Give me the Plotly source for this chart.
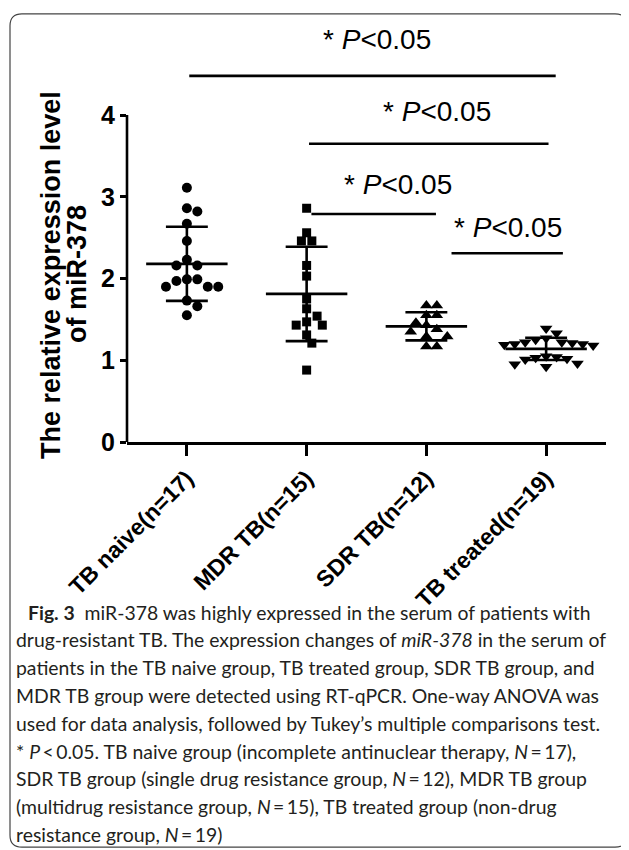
import numpy as np
import plotly.graph_objects as go

# ---------------- data ----------------
categories = ["TB naive(n=17)", "MDR TB(n=15)", "SDR TB(n=12)", "TB treated(n=19)"]
symbols = ["circle", "square", "triangle-up", "triangle-down"]

tb_naive = [3.11, 2.86, 2.82, 2.67, 2.46, 2.23, 2.16, 2.16, 1.99, 1.97, 1.99,
            1.90, 1.90, 1.90, 1.73, 1.66, 1.55]
mdr_tb = [2.86, 2.56, 2.46, 2.46, 2.16, 2.03, 1.75, 1.63, 1.54, 1.43, 1.43,
          1.47, 1.31, 1.21, 0.88]
sdr_tb = [1.67, 1.67, 1.55, 1.55, 1.46, 1.43, 1.38, 1.35, 1.29, 1.29, 1.17, 1.17]
tb_treated = [1.39, 1.33, 1.27, 1.25, 1.22, 1.21, 1.20, 1.19, 1.18, 1.20, 1.22,
              1.05, 1.03, 1.02, 1.04, 1.01, 0.96, 0.95, 0.92]
groups = [tb_naive, mdr_tb, sdr_tb, tb_treated]

y_ticks = [0, 1, 2, 3, 4]
y_title_lines = ["The relative expression level", "of miR-378"]

# significance comparisons
sig_label = "* <i>P</i>&lt;0.05"
sig_x0 = [0.02, 1.02, 1.04, 2.21]
sig_x1 = [3.08, 3.02, 2.08, 3.14]
sig_y = [4.48, 3.65, 2.79, 2.31]
sig_tx = [1.59, 2.085, 1.76, 2.68]
sig_ty = [4.92, 4.04, 3.15, 2.62]

caption_lines = [
    "<b>Fig. 3</b>  miR-378 was highly expressed in the serum of patients with",
    "drug-resistant TB. The expression changes of <i>miR-378</i> in the serum of",
    "patients in the TB naive group, TB treated group, SDR TB group, and",
    "MDR TB group were detected using RT-qPCR. One-way ANOVA was",
    "used for data analysis, followed by Tukey\u2019s multiple comparisons test.",
    "* <i>P</i>\u2009&lt;\u20090.05. TB naive group (incomplete antinuclear therapy, <i>N</i>\u2009=\u200917),",
    "SDR TB group (single drug resistance group, <i>N</i>\u2009=\u200912), MDR TB group",
    "(multidrug resistance group, <i>N</i>\u2009=\u200915), TB treated group (non-drug",
    "resistance group, <i>N</i>\u2009=\u200919)",
]

# ---------------- layout geometry (page pixels) ----------------
OFF = 8                      # default body margin of the html page
W, H = 629 - OFF, 850 - OFF
AX_LEFT, AX_RIGHT, AX_ZERO = 127, 606, 442   # page px
PX_UNIT = 81.7
Y_MAX = 5.2
L = AX_LEFT - OFF
R = W - (AX_RIGHT - OFF)
B = H - (AX_ZERO - OFF)
PH = Y_MAX * PX_UNIT
T = H - B - PH
PW = W - L - R
px_per_cat = PW / 4.0


def xp(px):
    """page px -> paper x"""
    return (px - OFF - L) / PW


def yp(py):
    """page px -> paper y"""
    return (H - B - (py - OFF)) / PH


def swarm(vals, d=9.5):
    order = sorted(range(len(vals)), key=lambda i: -vals[i])
    placed = []
    offs = [0.0] * len(vals)
    cands = [0]
    for j in range(1, 20):
        cands += [j, -j]
    for i in order:
        y = vals[i] * PX_UNIT
        x = 0.0
        for c in cands:
            x = c * d * 0.55
            if all((x - qx) ** 2 + (y - qy) ** 2 >= (d * 0.95) ** 2 for qx, qy in placed):
                break
        placed.append((x, y))
        offs[i] = x / px_per_cat
    return offs


fig = go.Figure()

for gi, vals in enumerate(groups):
    offs = swarm(vals)
    fig.add_trace(go.Scatter(
        x=[gi + o for o in offs], y=vals, mode="markers",
        marker=dict(symbol=symbols[gi], color="black",
                    size=[10, 9, 11, 11][gi], line=dict(width=0)),
        showlegend=False, hoverinfo="skip", cliponaxis=False))

for gi, vals in enumerate(groups):
    m = float(np.mean(vals))
    s = float(np.std(vals, ddof=1))
    hw, cw = 0.34, 0.175
    fig.add_trace(go.Scatter(
        x=[gi - hw, gi + hw, None, gi - cw, gi + cw, None, gi - cw, gi + cw, None, gi, gi],
        y=[m, m, None, m + s, m + s, None, m - s, m - s, None, m + s, m - s],
        mode="lines", line=dict(color="black", width=2.6),
        showlegend=False, hoverinfo="skip"))

shapes = []
shapes.append(dict(type="line", xref="paper", yref="y", x0=0, x1=0, y0=0,
                   y1=max(y_ticks), line=dict(color="black", width=2.6)))
for x0, x1, y in zip(sig_x0, sig_x1, sig_y):
    shapes.append(dict(type="line", xref="x", yref="y", x0=x0, x1=x1, y0=y, y1=y,
                       line=dict(color="black", width=2.6)))

# rounded border around the whole figure (page px)
bx0, by0, bx1, by1, r = 10, 14, 627, 847, 12
pts = [
    ("M", bx0 + r, by0), ("L", bx1 - r, by0), ("Q", bx1, by0, bx1, by0 + r),
    ("L", bx1, by1 - r), ("Q", bx1, by1, bx1 - r, by1), ("L", bx0 + r, by1),
    ("Q", bx0, by1, bx0, by1 - r), ("L", bx0, by0 + r), ("Q", bx0, by0, bx0 + r, by0),
]
path = ""
for p in pts:
    nums = p[1:]
    coords = [f"{xp(nums[k]):.5f},{yp(nums[k + 1]):.5f}" for k in range(0, len(nums), 2)]
    path += p[0] + " " + " ".join(coords) + " "
path += "Z"
shapes.append(dict(type="path", xref="paper", yref="paper", path=path,
                   line=dict(color="#444444", width=1.2), fillcolor="rgba(0,0,0,0)"))

annotations = []
for tx, ty in zip(sig_tx, sig_ty):
    annotations.append(dict(x=tx, y=ty, xref="x", yref="y", text=sig_label,
                            showarrow=False, xanchor="center", yanchor="middle",
                            font=dict(family="Liberation Sans, Arial", size=28, color="black")))

# y axis title (two lines, rotated)
for txt, cx, cy in zip(y_title_lines, [51, 77], [275, 274]):
    annotations.append(dict(x=xp(cx), y=yp(cy), xref="paper", yref="paper", text=txt,
                            textangle=-90, showarrow=False, xanchor="center",
                            yanchor="middle",
                            font=dict(family="Liberation Sans, Arial", size=27,
                                      color="black", weight="bold")))

for i, line in enumerate(caption_lines):
    x0 = 26 if i == 0 else 14
    annotations.append(dict(x=xp(x0), y=yp(612 + 27.8 * i), xref="paper", yref="paper",
                            text=line, showarrow=False, xanchor="left", yanchor="middle",
                            font=dict(family="Lato, Noto Sans", size=19.4, color="#231f20")))

fig.update_layout(
    width=W, height=H,
    margin=dict(l=L, r=R, t=T, b=B, autoexpand=False),
    paper_bgcolor="white", plot_bgcolor="white",
    shapes=shapes, annotations=annotations,
    xaxis=dict(range=[-0.5, 3.5], tickvals=list(range(len(categories))),
               ticktext=categories, tickangle=-45, showgrid=False, zeroline=False,
               showline=True, linecolor="black", linewidth=2.6,
               ticks="outside", ticklen=11, tickwidth=2.6, tickcolor="black",
               tickfont=dict(family="Liberation Sans, Arial", size=23, color="black",
                             weight="bold")),
    yaxis=dict(range=[0, Y_MAX], tickvals=y_ticks, showgrid=False, zeroline=False,
               showline=False, ticks="outside", ticklen=6, tickwidth=2.6,
               tickcolor="black",
               tickfont=dict(family="Liberation Sans, Arial", size=25, color="black",
                             weight="bold")),
)

fig.write_html("out.html")
